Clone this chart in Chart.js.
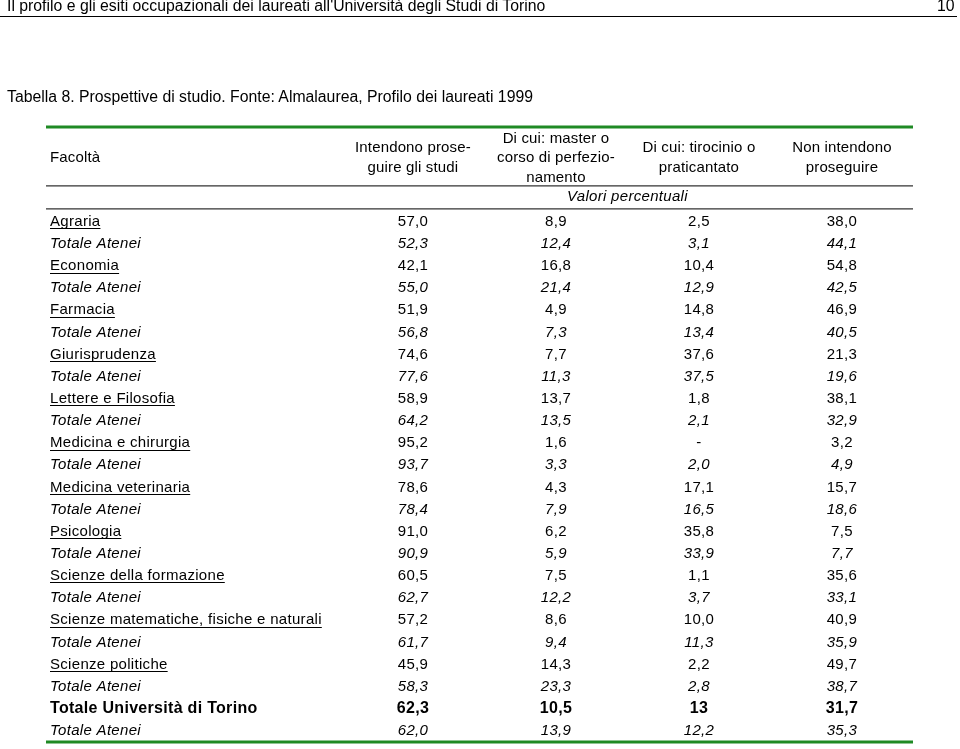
<!DOCTYPE html>
<html lang="it">
<head>
<meta charset="utf-8">
<title>Tabella 8. Prospettive di studio</title>
<script src="https://cdn.jsdelivr.net/npm/chart.js@4.4.1/dist/chart.umd.min.js"></script>
<style>
  html, body { margin: 0; padding: 0; background: #fff; }
  body { width: 960px; height: 749px; position: relative; overflow: hidden;
         font-family: 'Liberation Sans', Arial, sans-serif; color: #000; }
  #wrap { position: absolute; left: 0; top: 0; width: 960px; height: 749px; z-index: 1; }
  .t { position: absolute; font-size: 15.8px; line-height: 17px; white-space: nowrap; z-index: 2; }
  #rule { position: absolute; left: 0; top: 16px; width: 957px; height: 0; border-top: 1.5px solid #000; z-index: 2; }
</style>
</head>
<body>
<div class="t" style="left:7px;top:-3px;">Il profilo e gli esiti occupazionali dei laureati all'Università degli Studi di Torino</div>
<div class="t" style="left:937px;top:-3px;">10</div>
<div id="rule"></div>
<div class="t" style="left:7px;top:88px;">Tabella 8. Prospettive di studio. Fonte: Almalaurea, Profilo dei laureati 1999</div>
<div id="wrap"><canvas id="c"></canvas></div>
<script>
// ---------------- DATA ----------------
const faculties = [
  'Agraria', 'Economia', 'Farmacia', 'Giurisprudenza', 'Lettere e Filosofia',
  'Medicina e chirurgia', 'Medicina veterinaria', 'Psicologia', 'Scienze della formazione',
  'Scienze matematiche, fisiche e naturali', 'Scienze politiche', 'Totale Università di Torino'
];
const confrontoLabel = 'Totale Atenei';
const facultyHeader = 'Facoltà';
const unitLabel = 'Valori percentuali';
const columnHeaders = [
  ['Intendono prose-', 'guire gli studi'],
  ['Di cui: master o', 'corso di perfezio-', 'namento'],
  ['Di cui: tirocinio o', 'praticantato'],
  ['Non intendono', 'proseguire']
];
// Torino values (one per faculty, last = Totale Università di Torino)
const proseguonoTorino    = [57.0, 42.1, 51.9, 74.6, 58.9, 95.2, 78.6, 91.0, 60.5, 57.2, 45.9, 62.3];
const masterTorino        = [8.9, 16.8, 4.9, 7.7, 13.7, 1.6, 4.3, 6.2, 7.5, 8.6, 14.3, 10.5];
const tirocinioTorino     = [2.5, 10.4, 14.8, 37.6, 1.8, null, 17.1, 35.8, 1.1, 10.0, 2.2, 13];
const nonProseguonoTorino = [38.0, 54.8, 46.9, 21.3, 38.1, 3.2, 15.7, 7.5, 35.6, 40.9, 49.7, 31.7];
// Totale Atenei values (comparison row under each faculty)
const proseguonoAtenei    = [52.3, 55.0, 56.8, 77.6, 64.2, 93.7, 78.4, 90.9, 62.7, 61.7, 58.3, 62.0];
const masterAtenei        = [12.4, 21.4, 7.3, 11.3, 13.5, 3.3, 7.9, 5.9, 12.2, 9.4, 23.3, 13.9];
const tirocinioAtenei     = [3.1, 12.9, 13.4, 37.5, 2.1, 2.0, 16.5, 33.9, 3.7, 11.3, 2.8, 12.2];
const nonProseguonoAtenei = [44.1, 42.5, 40.5, 19.6, 32.9, 4.9, 18.6, 7.7, 33.1, 35.9, 38.7, 35.3];
// decimals shown in the "Totale Università di Torino" row
const totaleTorinoDecimals = [1, 1, 0, 1];

// ---------------- BUILD ----------------
const columnsTorino = [proseguonoTorino, masterTorino, tirocinioTorino, nonProseguonoTorino];
const columnsAtenei = [proseguonoAtenei, masterAtenei, tirocinioAtenei, nonProseguonoAtenei];

const rows = [];
faculties.forEach((f, i) => {
  rows.push({ label: f, kind: i === faculties.length - 1 ? 'total' : 'faculty', fi: i, src: columnsTorino });
  rows.push({ label: confrontoLabel, kind: 'atenei', fi: i, src: columnsAtenei });
});

const FAM = "'Liberation Sans', Arial, sans-serif";
const SPACING = '0.3px';
function rowFont(r) {
  return { family: FAM, size: r.kind === 'total' ? 16 : 15,
           style: r.kind === 'atenei' ? 'italic' : 'normal',
           weight: r.kind === 'total' ? 'bold' : 'normal' };
}
function cssFont(f) { return `${f.style} ${f.weight} ${f.size}px ${f.family}`; }
function fmt(v, r, c) {
  if (v === null || v === undefined) return '-';
  const d = r.kind === 'total' ? totaleTorinoDecimals[c] : 1;
  return v.toFixed(d).replace('.', ',');
}

const datasets = columnHeaders.map((h, c) => ({
  label: h.join(' '),
  data: rows.map((r, ri) => ({ x: c + 1, y: ri, v: r.src[c][r.fi] })),
  pointRadius: 0,
  pointHoverRadius: 0,
  showLine: false
}));

// layout constants (scale units / pixels)
const HEADER_ROW = -2.88;
const RULE1_ROW = -1.62;
const UNIT_ROW = -1.12;
const RULE2_ROW = -0.58;
const HEADER_LH = 19.5;
const GREEN = '#1f8a24';

const tablePlugin = {
  id: 'tableText',
  beforeDraw(chart) {
    chart.ctx.letterSpacing = SPACING;
  },
  afterDatasetsDraw(chart) {
    const { ctx, chartArea: a, scales: { x, y } } = chart;
    ctx.save();
    ctx.letterSpacing = SPACING;
    ctx.fillStyle = '#000';
    ctx.textBaseline = 'middle';

    // cell values
    chart.data.datasets.forEach((ds, c) => {
      const meta = chart.getDatasetMeta(c);
      meta.data.forEach((el, i) => {
        const r = rows[i];
        ctx.font = cssFont(rowFont(r));
        ctx.textAlign = 'center';
        ctx.fillText(fmt(ds.data[i].v, r, c), el.x, el.y);
      });
    });

    // underline faculty names
    ctx.strokeStyle = '#000';
    ctx.lineWidth = 1;
    rows.forEach((r, i) => {
      if (r.kind !== 'faculty') return;
      ctx.font = cssFont(rowFont(r));
      const w = ctx.measureText(r.label).width;
      const py = Math.round(y.getPixelForValue(i) + 6.5) + 0.5;
      const x0 = a.left + 4;
      ctx.beginPath();
      ctx.moveTo(x0, py);
      ctx.lineTo(x0 + w, py);
      ctx.stroke();
    });

    // headers
    ctx.font = `normal 15px ${FAM}`;
    ctx.letterSpacing = '0.15px';
    const hy = y.getPixelForValue(HEADER_ROW);
    ctx.textAlign = 'left';
    ctx.fillText(facultyHeader, a.left + 4, hy);
    ctx.textAlign = 'center';
    columnHeaders.forEach((lines, c) => {
      const cx = x.getPixelForValue(c + 1);
      const y0 = hy - (lines.length - 1) * HEADER_LH / 2;
      lines.forEach((ln, k) => ctx.fillText(ln, cx, y0 + k * HEADER_LH));
    });
    ctx.font = `italic 15px ${FAM}`;
    ctx.letterSpacing = SPACING;
    ctx.fillText(unitLabel, x.getPixelForValue(2.5), y.getPixelForValue(UNIT_ROW));

    // rules
    ctx.strokeStyle = '#333';
    ctx.lineWidth = 1.3;
    [RULE1_ROW, RULE2_ROW].forEach(v => {
      const py = y.getPixelForValue(v);
      ctx.beginPath(); ctx.moveTo(a.left, py); ctx.lineTo(a.right, py); ctx.stroke();
    });
    ctx.strokeStyle = GREEN;
    ctx.lineWidth = 3;
    [a.top, a.bottom].forEach(py => {
      ctx.beginPath(); ctx.moveTo(a.left, py); ctx.lineTo(a.right, py); ctx.stroke();
    });
    ctx.restore();
  }
};

new Chart(document.getElementById('c'), {
  type: 'scatter',
  data: { datasets },
  plugins: [tablePlugin],
  options: {
    responsive: true,
    maintainAspectRatio: false,
    animation: false,
    events: [],
    layout: { padding: { left: 46, right: 47, top: 127, bottom: 7 } },
    plugins: { legend: { display: false }, tooltip: { enabled: false } },
    scales: {
      x: {
        type: 'linear', display: false, min: -1.566, max: 4.497
      },
      y: {
        type: 'linear', reverse: true, min: -4.28, max: 23.5,
        grid: { display: false }, border: { display: false },
        afterBuildTicks: (scale) => { scale.ticks = rows.map((_, i) => ({ value: i })); },
        afterFit: (scale) => {
          scale.width = 0;
          scale.paddingTop = 0; scale.paddingBottom = 0; scale.paddingLeft = 0; scale.paddingRight = 0;
        },
        ticks: {
          mirror: true,
          padding: 4,
          color: '#000',
          autoSkip: false,
          callback: (value) => rows[value] ? rows[value].label : '',
          font: (ctx) => {
            const r = rows[ctx.tick ? ctx.tick.value : ctx.index];
            return r ? rowFont(r) : { family: FAM, size: 15 };
          }
        }
      }
    }
  }
});
</script>
</body>
</html>
